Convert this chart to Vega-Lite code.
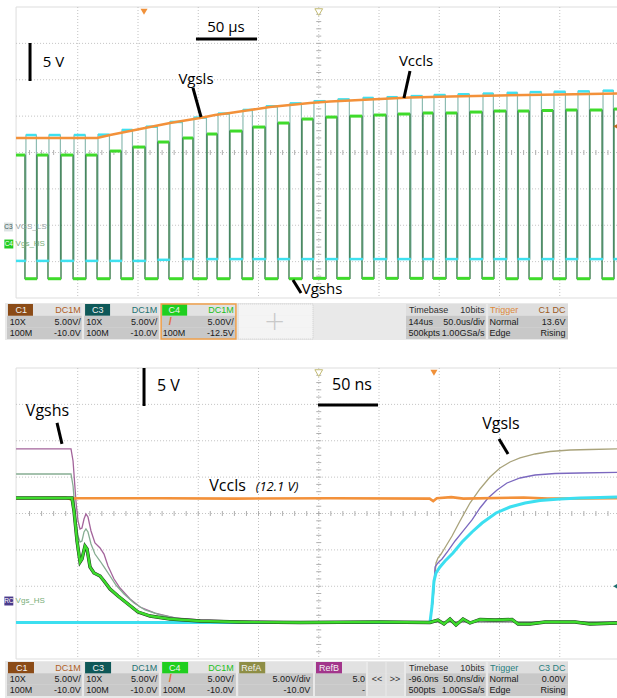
{
"$schema":"https://vega.github.io/schema/vega-lite/v6.json",
"padding":{"left":0,"top":6,"right":0,"bottom":0},
"background":"#ffffff",
"spacing":0,
"bounds":"flush",
"config":{"view":{"stroke":null},"axis":{"disable":true},"legend":{"disable":true},"concat":{"spacing":0}},
"datasets":{
"fr":[{"v":30},{"v":-10}],
"gT":[{"t":50},{"t":100},{"t":150},{"t":200},{"t":250},{"t":300},{"t":350},{"t":400},{"t":450}],
"gV":[{"v":-5},{"v":0},{"v":5},{"v":10},{"v":15},{"v":20},{"v":25}],
"tT":[{"t":10},{"t":20},{"t":30},{"t":40},{"t":50},{"t":60},{"t":70},{"t":80},{"t":90},{"t":100},{"t":110},{"t":120},{"t":130},{"t":140},{"t":150},{"t":160},{"t":170},{"t":180},{"t":190},{"t":200},{"t":210},{"t":220},{"t":230},{"t":240},{"t":250},{"t":260},{"t":270},{"t":280},{"t":290},{"t":300},{"t":310},{"t":320},{"t":330},{"t":340},{"t":350},{"t":360},{"t":370},{"t":380},{"t":390},{"t":400},{"t":410},{"t":420},{"t":430},{"t":440},{"t":450},{"t":460},{"t":470},{"t":480},{"t":490}],
"tV":[{"v":-9},{"v":-8},{"v":-7},{"v":-6},{"v":-5},{"v":-4},{"v":-3},{"v":-2},{"v":-1},{"v":0},{"v":1},{"v":2},{"v":3},{"v":4},{"v":5},{"v":6},{"v":7},{"v":8},{"v":9},{"v":10},{"v":11},{"v":12},{"v":13},{"v":14},{"v":15},{"v":16},{"v":17},{"v":18},{"v":19},{"v":20},{"v":21},{"v":22},{"v":23},{"v":24},{"v":25},{"v":26},{"v":27},{"v":28},{"v":29}],
"sw":[
{"s":"HS","a":-1.2,"b":6.2,"v":12.15},{"s":"HS","a":6.2,"b":16.2,"v":-4.85},{"s":"HS","a":16.2,"b":25.3,"v":12.15},{"s":"HS","a":25.3,"b":36.1,"v":-4.85},{"s":"HS","a":36.1,"b":46.1,"v":12.15},{"s":"HS","a":46.1,"b":56.8,"v":-4.85},{"s":"HS","a":56.8,"b":66.0,"v":12.15},{"s":"HS","a":66.0,"b":76.8,"v":-4.85},{"s":"HS","a":76.8,"b":85.9,"v":12.7},{"s":"HS","a":85.9,"b":95.9,"v":-4.85},{"s":"HS","a":95.9,"b":105.8,"v":13.25},{"s":"HS","a":105.8,"b":116.6,"v":-4.85},{"s":"HS","a":116.6,"b":125.7,"v":13.94},{"s":"HS","a":125.7,"b":137.3,"v":-4.85},{"s":"HS","a":137.3,"b":145.6,"v":14.49},{"s":"HS","a":145.6,"b":157.3,"v":-4.85},{"s":"HS","a":157.3,"b":165.6,"v":15.04},{"s":"HS","a":165.6,"b":176.3,"v":-4.85},{"s":"HS","a":176.3,"b":186.3,"v":15.45},{"s":"HS","a":186.3,"b":195.4,"v":-4.85},{"s":"HS","a":195.4,"b":205.4,"v":16.0},{"s":"HS","a":205.4,"b":216.2,"v":-4.85},{"s":"HS","a":216.2,"b":225.3,"v":16.55},{"s":"HS","a":225.3,"b":236.1,"v":-4.85},{"s":"HS","a":236.1,"b":245.2,"v":17.1},{"s":"HS","a":245.2,"b":256.0,"v":-4.8},{"s":"HS","a":256.0,"b":265.1,"v":17.37},{"s":"HS","a":265.1,"b":275.9,"v":-4.8},{"s":"HS","a":275.9,"b":285.9,"v":17.5},{"s":"HS","a":285.9,"b":295.8,"v":-4.8},{"s":"HS","a":295.8,"b":305.8,"v":17.65},{"s":"HS","a":305.8,"b":315.8,"v":-4.8},{"s":"HS","a":315.8,"b":325.7,"v":17.79},{"s":"HS","a":325.7,"b":336.5,"v":-4.8},{"s":"HS","a":336.5,"b":344.8,"v":17.93},{"s":"HS","a":344.8,"b":355.6,"v":-4.8},{"s":"HS","a":355.6,"b":364.7,"v":17.93},{"s":"HS","a":364.7,"b":375.5,"v":-4.8},{"s":"HS","a":375.5,"b":385.5,"v":18.06},{"s":"HS","a":385.5,"b":395.4,"v":-4.8},{"s":"HS","a":395.4,"b":405.4,"v":18.2},{"s":"HS","a":405.4,"b":415.4,"v":-4.85},{"s":"HS","a":415.4,"b":424.5,"v":18.2},{"s":"HS","a":424.5,"b":435.3,"v":-4.85},{"s":"HS","a":435.3,"b":444.4,"v":18.27},{"s":"HS","a":444.4,"b":455.2,"v":-4.85},{"s":"HS","a":455.2,"b":464.3,"v":18.34},{"s":"HS","a":464.3,"b":475.1,"v":-4.85},{"s":"HS","a":475.1,"b":485.1,"v":18.34},{"s":"HS","a":485.1,"b":495.0,"v":-4.85},{"s":"HS","a":495.0,"b":498.0,"v":18.47},
{"s":"LS","a":-1.2,"b":7.0,"v":-4.9},{"s":"LS","a":7.0,"b":15.7,"v":12.4},{"s":"LS","a":15.7,"b":26.1,"v":-4.9},{"s":"LS","a":26.1,"b":35.6,"v":12.4},{"s":"LS","a":35.6,"b":46.9,"v":-4.9},{"s":"LS","a":46.9,"b":56.3,"v":12.4},{"s":"LS","a":56.3,"b":66.8,"v":-4.9},{"s":"LS","a":66.8,"b":76.3,"v":12.45},{"s":"LS","a":76.3,"b":86.7,"v":-4.9},{"s":"LS","a":86.7,"b":95.4,"v":13.1},{"s":"LS","a":95.4,"b":106.6,"v":-4.9},{"s":"LS","a":106.6,"b":116.1,"v":13.55},{"s":"LS","a":116.1,"b":126.5,"v":-4.75},{"s":"LS","a":126.5,"b":136.8,"v":14.2},{"s":"LS","a":136.8,"b":146.4,"v":-4.65},{"s":"LS","a":146.4,"b":156.8,"v":14.8},{"s":"LS","a":156.8,"b":166.4,"v":-4.65},{"s":"LS","a":166.4,"b":175.8,"v":15.35},{"s":"LS","a":175.8,"b":187.1,"v":-4.65},{"s":"LS","a":187.1,"b":194.9,"v":15.85},{"s":"LS","a":194.9,"b":206.2,"v":-4.65},{"s":"LS","a":206.2,"b":215.7,"v":16.35},{"s":"LS","a":215.7,"b":226.1,"v":-4.65},{"s":"LS","a":226.1,"b":235.6,"v":16.75},{"s":"LS","a":235.6,"b":246.0,"v":-4.65},{"s":"LS","a":246.0,"b":255.5,"v":17.05},{"s":"LS","a":255.5,"b":265.9,"v":-4.65},{"s":"LS","a":265.9,"b":275.4,"v":17.3},{"s":"LS","a":275.4,"b":286.7,"v":-4.65},{"s":"LS","a":286.7,"b":295.3,"v":17.5},{"s":"LS","a":295.3,"b":306.6,"v":-4.65},{"s":"LS","a":306.6,"b":315.3,"v":17.6},{"s":"LS","a":315.3,"b":326.5,"v":-4.65},{"s":"LS","a":326.5,"b":336.0,"v":17.75},{"s":"LS","a":336.0,"b":345.6,"v":-4.65},{"s":"LS","a":345.6,"b":355.1,"v":17.9},{"s":"LS","a":355.1,"b":365.5,"v":-4.65},{"s":"LS","a":365.5,"b":375.0,"v":18.0},{"s":"LS","a":375.0,"b":386.3,"v":-4.65},{"s":"LS","a":386.3,"b":394.9,"v":18.1},{"s":"LS","a":394.9,"b":406.2,"v":-4.65},{"s":"LS","a":406.2,"b":414.9,"v":18.2},{"s":"LS","a":414.9,"b":425.3,"v":-4.65},{"s":"LS","a":425.3,"b":434.8,"v":18.3},{"s":"LS","a":434.8,"b":445.2,"v":-4.65},{"s":"LS","a":445.2,"b":454.7,"v":18.35},{"s":"LS","a":454.7,"b":465.1,"v":-4.65},{"s":"LS","a":465.1,"b":474.6,"v":18.4},{"s":"LS","a":474.6,"b":485.9,"v":-4.65},{"s":"LS","a":485.9,"b":494.5,"v":18.5},{"s":"LS","a":494.5,"b":498.0,"v":-4.65}
],
"or1":[{"t":-1.2,"v":11.99},{"t":66.0,"v":11.99},{"t":76.8,"v":12.40},{"t":89.2,"v":12.82},{"t":101.7,"v":13.23},{"t":114.1,"v":13.64},{"t":126.6,"v":14.05},{"t":139.0,"v":14.40},{"t":151.5,"v":14.74},{"t":163.9,"v":15.15},{"t":176.3,"v":15.43},{"t":192.9,"v":15.84},{"t":209.5,"v":16.25},{"t":226.1,"v":16.53},{"t":242.7,"v":16.80},{"t":259.3,"v":17.01},{"t":275.9,"v":17.15},{"t":300.8,"v":17.35},{"t":325.7,"v":17.56},{"t":358.9,"v":17.70},{"t":400.4,"v":17.84},{"t":450.2,"v":17.97},{"t":497.5,"v":18.11}],
"an1l":[{"t1":10.4,"v1":25.05,"t2":10.4,"v2":19.83},{"t1":148.1,"v1":25.6,"t2":198.8,"v2":25.6},{"t1":145.6,"v1":18.87,"t2":152.3,"v2":14.88},{"t1":325.7,"v1":21.2,"t2":320.7,"v2":17.49},{"t1":228.6,"v1":-7.52,"t2":235.3,"v2":-9.31}],
"an1t":[{"t":29.9,"v":22.4,"label":"5 V"},{"t":173.0,"v":27.25,"label":"50 µs"},{"t":148.1,"v":20.11,"label":"Vgsls"},{"t":330.7,"v":22.58,"label":"Vccls"},{"t":252.7,"v":-8.76,"label":"Vgshs"}],
"lb1":[{"t":11.2,"v":-0.24,"label":"VGS_LS","c":"LS"},{"t":10.6,"v":-2.58,"label":"Vgs_HS","c":"HS"}],
"tg1":[{"t":-7.5,"v":-0.24,"label":"C3","c":"C3"},{"t":-7.2,"v":-2.58,"label":"C4","c":"C4"}],
"bt":[
{"s":"C1","t":-1.2,"v":12.1},{"s":"C1","t":40,"v":12.15},{"s":"C1","t":44.5,"v":11.95},{"s":"C1","t":48,"v":12.1},{"s":"C1","t":120,"v":12.1},{"s":"C1","t":180,"v":12.05},{"s":"C1","t":260,"v":12.1},{"s":"C1","t":342,"v":12.05},{"s":"C1","t":345,"v":11.7},{"s":"C1","t":348,"v":12.1},{"s":"C1","t":360,"v":12.25},{"s":"C1","t":370,"v":12.05},{"s":"C1","t":420,"v":12.2},{"s":"C1","t":440,"v":12.05},{"s":"C1","t":497.5,"v":12.1},
{"s":"C4","t":-1.2,"v":12.13},{"s":"C4","t":45.2,"v":12.13},{"s":"C4","t":46.9,"v":10.34},{"s":"C4","t":49.4,"v":6.22},{"s":"C4","t":51.9,"v":3.33},{"s":"C4","t":53.5,"v":3.75},{"s":"C4","t":56.0,"v":5.53},{"s":"C4","t":57.7,"v":5.12},{"s":"C4","t":60.2,"v":2.64},{"s":"C4","t":63.5,"v":1.82},{"s":"C4","t":68.5,"v":1.41},{"s":"C4","t":71.8,"v":0.72},{"s":"C4","t":76.8,"v":-0.38},{"s":"C4","t":83.4,"v":-1.34},{"s":"C4","t":91.7,"v":-2.44},{"s":"C4","t":100.0,"v":-3.54},{"s":"C4","t":110.0,"v":-4.09},{"s":"C4","t":126.6,"v":-4.5},{"s":"C4","t":151.5,"v":-4.78},{"s":"C4","t":184.6,"v":-4.91},{"s":"C4","t":234.4,"v":-4.98},{"s":"C4","t":300.8,"v":-4.91},{"s":"C4","t":342.3,"v":-4.98},{"s":"C4","t":348.9,"v":-4.64},{"s":"C4","t":353.9,"v":-5.19},{"s":"C4","t":358.9,"v":-4.5},{"s":"C4","t":363.9,"v":-5.33},{"s":"C4","t":369.7,"v":-4.5},{"s":"C4","t":375.5,"v":-5.05},{"s":"C4","t":383.8,"v":-4.57},{"s":"C4","t":396.3,"v":-4.64},{"s":"C4","t":410.4,"v":-4.57},{"s":"C4","t":415.4,"v":-5.19},{"s":"C4","t":425.3,"v":-5.19},{"s":"C4","t":437.8,"v":-4.91},{"s":"C4","t":462.7,"v":-4.91},{"s":"C4","t":475.1,"v":-5.19},{"s":"C4","t":497.5,"v":-5.05},
{"s":"C3","t":-1.2,"v":-4.98},{"s":"C3","t":342.3,"v":-4.98},{"s":"C3","t":344.0,"v":-2.72},{"s":"C3","t":345.6,"v":0.72},{"s":"C3","t":347.3,"v":1.82},{"s":"C3","t":350.6,"v":2.65},{"s":"C3","t":354.8,"v":3.47},{"s":"C3","t":361.4,"v":4.57},{"s":"C3","t":368.9,"v":6.08},{"s":"C3","t":377.2,"v":7.46},{"s":"C3","t":385.5,"v":8.69},{"s":"C3","t":397.1,"v":10.07},{"s":"C3","t":408.7,"v":10.89},{"s":"C3","t":421.2,"v":11.44},{"s":"C3","t":433.6,"v":11.79},{"s":"C3","t":450.2,"v":11.99},{"s":"C3","t":466.8,"v":12.13},{"s":"C3","t":483.4,"v":12.2},{"s":"C3","t":497.5,"v":12.27},
{"s":"RBh","t":-1.2,"v":18.87},{"s":"RBh","t":44.4,"v":18.87},{"s":"RBh","t":46.1,"v":17.22},{"s":"RBh","t":48.5,"v":11.72},{"s":"RBh","t":50.2,"v":8.97},{"s":"RBh","t":51.9,"v":7.87},{"s":"RBh","t":53.5,"v":8.01},{"s":"RBh","t":55.2,"v":9.24},{"s":"RBh","t":56.8,"v":9.93},{"s":"RBh","t":58.5,"v":9.52},{"s":"RBh","t":61.0,"v":7.6},{"s":"RBh","t":64.3,"v":5.95},{"s":"RBh","t":68.5,"v":5.26},{"s":"RBh","t":71.8,"v":4.43},{"s":"RBh","t":75.1,"v":2.78},{"s":"RBh","t":80.1,"v":0.99},{"s":"RBh","t":85.1,"v":-0.24},{"s":"RBh","t":93.4,"v":-1.75},{"s":"RBh","t":101.7,"v":-2.85},{"s":"RBh","t":114.1,"v":-3.68},{"s":"RBh","t":130.7,"v":-4.36},{"s":"RBh","t":151.5,"v":-4.64},{"s":"RBh","t":184.6,"v":-4.78},{"s":"RBh","t":234.4,"v":-4.91},{"s":"RBh","t":497.5,"v":-4.91},
{"s":"RAh","t":-1.2,"v":15.43},{"s":"RAh","t":44.4,"v":15.43},{"s":"RAh","t":46.1,"v":13.78},{"s":"RAh","t":48.5,"v":8.97},{"s":"RAh","t":50.2,"v":6.91},{"s":"RAh","t":51.9,"v":6.08},{"s":"RAh","t":53.5,"v":6.22},{"s":"RAh","t":55.2,"v":7.46},{"s":"RAh","t":56.8,"v":7.87},{"s":"RAh","t":58.5,"v":7.46},{"s":"RAh","t":61.0,"v":5.81},{"s":"RAh","t":64.3,"v":4.43},{"s":"RAh","t":68.5,"v":3.47},{"s":"RAh","t":71.8,"v":2.65},{"s":"RAh","t":76.8,"v":1.41},{"s":"RAh","t":81.7,"v":0.17},{"s":"RAh","t":88.4,"v":-1.07},{"s":"RAh","t":96.7,"v":-2.3},{"s":"RAh","t":105.8,"v":-3.26},{"s":"RAh","t":118.3,"v":-3.95},{"s":"RAh","t":134.9,"v":-4.5},{"s":"RAh","t":159.8,"v":-4.78},{"s":"RAh","t":193.0,"v":-4.91},{"s":"RAh","t":497.5,"v":-4.91},
{"s":"RAl","t":-1.2,"v":-4.91},{"s":"RAl","t":342.3,"v":-4.91},{"s":"RAl","t":344.8,"v":-2.03},{"s":"RAl","t":347.3,"v":3.2},{"s":"RAl","t":348.9,"v":3.88},{"s":"RAl","t":351.5,"v":4.43},{"s":"RAl","t":355.6,"v":5.53},{"s":"RAl","t":360.6,"v":6.91},{"s":"RAl","t":367.2,"v":8.97},{"s":"RAl","t":375.5,"v":11.44},{"s":"RAl","t":383.8,"v":13.37},{"s":"RAl","t":392.1,"v":15.02},{"s":"RAl","t":400.4,"v":16.25},{"s":"RAl","t":408.7,"v":17.08},{"s":"RAl","t":417.0,"v":17.63},{"s":"RAl","t":429.5,"v":18.18},{"s":"RAl","t":441.9,"v":18.52},{"s":"RAl","t":458.5,"v":18.73},{"s":"RAl","t":475.1,"v":18.8},{"s":"RAl","t":497.5,"v":18.87},
{"s":"RBl","t":-1.2,"v":-4.91},{"s":"RBl","t":342.3,"v":-4.91},{"s":"RBl","t":344.8,"v":-2.03},{"s":"RBl","t":346.5,"v":2.65},{"s":"RBl","t":348.9,"v":3.2},{"s":"RBl","t":352.3,"v":3.75},{"s":"RBl","t":357.3,"v":4.85},{"s":"RBl","t":363.1,"v":6.22},{"s":"RBl","t":369.7,"v":7.59},{"s":"RBl","t":377.2,"v":9.11},{"s":"RBl","t":383.8,"v":10.76},{"s":"RBl","t":390.5,"v":12.13},{"s":"RBl","t":398.0,"v":13.23},{"s":"RBl","t":406.2,"v":14.19},{"s":"RBl","t":417.0,"v":14.88},{"s":"RBl","t":429.5,"v":15.29},{"s":"RBl","t":446.1,"v":15.5},{"s":"RBl","t":466.8,"v":15.57},{"s":"RBl","t":497.5,"v":15.64}
],
"an2l":[{"t1":105,"v1":30,"t2":105,"v2":24.78},{"t1":249.4,"v1":24.91,"t2":299.2,"v2":24.91},{"t1":32.8,"v1":22.45,"t2":36.9,"v2":19.56},{"t1":399.6,"v1":20.24,"t2":407.1,"v2":18.18}],
"an2t":[{"t":125.3,"v":27.53,"label":"5 V"},{"t":277.6,"v":27.66,"label":"50 ns"},{"t":24.9,"v":24.09,"label":"Vgshs"},{"t":174.3,"v":13.78,"label":"Vccls"},{"t":401.2,"v":22.3,"label":"Vgsls"}],
"an2i":[{"t":215.4,"v":13.64,"label":"(12.1 V)"}],
"lb2":[{"t":10.6,"v":-2.03,"label":"Vgs_HS","c":"HS"}],
"tg2":[{"t":-7.2,"v":-2.03,"label":"RC","c":"RC"}],
"b1":[
{"g":"L","box":"C1","row":"h","left":"C1","right":"DC1M"},{"g":"L","box":"C1","row":"r1","left":"10X","right":"5.00V/"},{"g":"L","box":"C1","row":"r2","left":"100M","right":"-10.0V"},
{"g":"L","box":"C3","row":"h","left":"C3","right":"DC1M"},{"g":"L","box":"C3","row":"r1","left":"10X","right":"5.00V/"},{"g":"L","box":"C3","row":"r2","left":"100M","right":"-10.0V"},
{"g":"L","box":"C4","row":"h","left":"C4","right":"DC1M"},{"g":"L","box":"C4","row":"r1","left":"","right":"5.00V/"},{"g":"L","box":"C4","row":"r2","left":"100M","right":"-12.5V"},
{"g":"E","box":"E","row":"h","left":"","right":""},{"g":"E","box":"E","row":"r1","left":"+","right":""},{"g":"E","box":"E","row":"r2","left":"","right":""},
{"g":"R","box":"Timebase","row":"h","left":"Timebase","right":"10bits"},{"g":"R","box":"Timebase","row":"r1","left":"144us","right":"50.0us/div"},{"g":"R","box":"Timebase","row":"r2","left":"500kpts","right":"1.00GSa/s"},
{"g":"R","box":"Trigger","row":"h","left":"Trigger","right":"C1 DC"},{"g":"R","box":"Trigger","row":"r1","left":"Normal","right":"13.6V"},{"g":"R","box":"Trigger","row":"r2","left":"Edge","right":"Rising"}
],
"b2":[
{"g":"L","box":"C1","row":"h","left":"C1","right":"DC1M"},{"g":"L","box":"C1","row":"r1","left":"10X","right":"5.00V/"},{"g":"L","box":"C1","row":"r2","left":"100M","right":"-10.0V"},
{"g":"L","box":"C3","row":"h","left":"C3","right":"DC1M"},{"g":"L","box":"C3","row":"r1","left":"10X","right":"5.00V/"},{"g":"L","box":"C3","row":"r2","left":"100M","right":"-10.0V"},
{"g":"L","box":"C4","row":"h","left":"C4","right":"DC1M"},{"g":"L","box":"C4","row":"r1","left":"","right":"5.00V/"},{"g":"L","box":"C4","row":"r2","left":"100M","right":"-10.0V"},
{"g":"L","box":"RefA","row":"h","left":"RefA","right":""},{"g":"L","box":"RefA","row":"r1","left":"","right":"5.00V/div"},{"g":"L","box":"RefA","row":"r2","left":"","right":"-10.0V"},
{"g":"B","box":"RefB","row":"h","left":"RefB","right":""},{"g":"B","box":"RefB","row":"r1","left":"","right":"5.0"},{"g":"B","box":"RefB","row":"r2","left":"","right":"-"},
{"g":"N","box":"<<","row":"h","left":"","right":""},{"g":"N","box":"<<","row":"r1","left":"<<","right":""},{"g":"N","box":"<<","row":"r2","left":"","right":""},
{"g":"N","box":">>","row":"h","left":"","right":""},{"g":"N","box":">>","row":"r1","left":">>","right":""},{"g":"N","box":">>","row":"r2","left":"","right":""},
{"g":"R","box":"Timebase","row":"h","left":"Timebase","right":"10bits"},{"g":"R","box":"Timebase","row":"r1","left":"-96.0ns","right":"50.0ns/div"},{"g":"R","box":"Timebase","row":"r2","left":"500pts","right":"1.00GSa/s"},
{"g":"R","box":"Trigger","row":"h","left":"Trigger","right":"C3 DC"},{"g":"R","box":"Trigger","row":"r1","left":"Normal","right":"0.00V"},{"g":"R","box":"Trigger","row":"r2","left":"Edge","right":"Rising"}
]
},
"vconcat":[
{
"width":617,"height":291,
"resolve":{"scale":{"y":"independent","color":"independent"}},
"layer":[
{"data":{"name":"fr"},"mark":{"type":"rule","color":"#dddddd","strokeWidth":1},"encoding":{"x":{"datum":-1.2,"type":"quantitative","scale":{"domain":[-14.52,497.5],"nice":false,"zero":false}},"x2":{"datum":500},"y":{"field":"v","type":"quantitative","scale":{"domain":[-10,30],"nice":false,"zero":false}}}},
{"data":{"values":[{"t":-1.2}]},"mark":{"type":"rule","color":"#dddddd","strokeWidth":1},"encoding":{"x":{"field":"t","type":"quantitative","scale":{"domain":[-14.52,497.5],"nice":false,"zero":false}}}},
{"data":{"name":"gT"},"mark":{"type":"rule","color":"#c2c2c2","strokeDash":[1,2]},"encoding":{"x":{"field":"t","type":"quantitative","scale":{"domain":[-14.52,497.5],"nice":false,"zero":false}}}},
{"data":{"name":"gV"},"mark":{"type":"rule","color":"#c2c2c2","strokeDash":[1,2]},"encoding":{"x":{"datum":-1.2,"type":"quantitative","scale":{"domain":[-14.52,497.5],"nice":false,"zero":false}},"x2":{"datum":500},"y":{"field":"v","type":"quantitative","scale":{"domain":[-10,30],"nice":false,"zero":false}}}},
{"data":{"name":"tT"},"mark":{"type":"tick","orient":"vertical","color":"#b0b0b0","size":5,"thickness":1,"opacity":1},"encoding":{"x":{"field":"t","type":"quantitative","scale":{"domain":[-14.52,497.5],"nice":false,"zero":false}},"y":{"datum":10,"type":"quantitative","scale":{"domain":[-10,30],"nice":false,"zero":false}}}},
{"data":{"name":"tV"},"mark":{"type":"tick","orient":"horizontal","color":"#b0b0b0","size":5,"thickness":1,"opacity":1},"encoding":{"y":{"field":"v","type":"quantitative","scale":{"domain":[-10,30],"nice":false,"zero":false}},"x":{"datum":250,"type":"quantitative","scale":{"domain":[-14.52,497.5],"nice":false,"zero":false}}}},
{"data":{"name":"sw"},"transform":[{"filter":"datum.s==='LS'"},{"fold":["a","b"],"as":["k","t"]}],"mark":{"type":"line","color":"#8dbcb2","strokeWidth":1.2},"encoding":{"x":{"field":"t","type":"quantitative","scale":{"domain":[-14.52,497.5],"nice":false,"zero":false}},"y":{"field":"v","type":"quantitative","scale":{"domain":[-10,30],"nice":false,"zero":false}}}},
{"data":{"name":"sw"},"transform":[{"filter":"datum.s==='HS'"},{"fold":["a","b"],"as":["k","t"]}],"mark":{"type":"line","color":"#1f6a34","strokeWidth":1.2},"encoding":{"x":{"field":"t","type":"quantitative","scale":{"domain":[-14.52,497.5],"nice":false,"zero":false}},"y":{"field":"v","type":"quantitative","scale":{"domain":[-7.5,32.5],"nice":false,"zero":false}}}},
{"data":{"name":"sw"},"transform":[{"filter":"datum.s==='LS'"}],"mark":{"type":"rule","color":"#3ee1f0","strokeWidth":2.5},"encoding":{"x":{"field":"a","type":"quantitative","scale":{"domain":[-14.52,497.5],"nice":false,"zero":false}},"x2":{"field":"b"},"y":{"field":"v","type":"quantitative","scale":{"domain":[-10,30],"nice":false,"zero":false}}}},
{"data":{"name":"sw"},"transform":[{"filter":"datum.s==='HS'"}],"mark":{"type":"rule","color":"#3fdb2b","strokeWidth":3},"encoding":{"x":{"field":"a","type":"quantitative","scale":{"domain":[-14.52,497.5],"nice":false,"zero":false}},"x2":{"field":"b"},"y":{"field":"v","type":"quantitative","scale":{"domain":[-7.5,32.5],"nice":false,"zero":false}}}},
{"data":{"name":"or1"},"mark":{"type":"line","color":"#f3913a","strokeWidth":2.5},"encoding":{"x":{"field":"t","type":"quantitative","scale":{"domain":[-14.52,497.5],"nice":false,"zero":false}},"y":{"field":"v","type":"quantitative","scale":{"domain":[-10,30],"nice":false,"zero":false}}}},
{"data":{"name":"an1l"},"mark":{"type":"rule","color":"#000000","strokeWidth":3},"encoding":{"x":{"field":"t1","type":"quantitative","scale":{"domain":[-14.52,497.5],"nice":false,"zero":false}},"x2":{"field":"t2"},"y":{"field":"v1","type":"quantitative","scale":{"domain":[-10,30],"nice":false,"zero":false}},"y2":{"field":"v2"}}},
{"data":{"name":"an1t"},"mark":{"type":"text","font":"Open Sans","fontSize":15,"color":"#000000","align":"center","baseline":"middle"},"encoding":{"x":{"field":"t","type":"quantitative","scale":{"domain":[-14.52,497.5],"nice":false,"zero":false}},"y":{"field":"v","type":"quantitative","scale":{"domain":[-10,30],"nice":false,"zero":false}},"text":{"field":"label"}}},
{"data":{"name":"lb1"},"mark":{"type":"text","font":"Liberation Sans","fontSize":8,"align":"center","baseline":"middle"},"encoding":{"x":{"field":"t","type":"quantitative","scale":{"domain":[-14.52,497.5],"nice":false,"zero":false}},"y":{"field":"v","type":"quantitative","scale":{"domain":[-10,30],"nice":false,"zero":false}},"text":{"field":"label"},"color":{"field":"c","type":"nominal","scale":{"domain":["LS","HS"],"range":["#98a4a4","#78ad78"]}}}},
{"data":{"name":"tg1"},"mark":{"type":"square","size":80,"opacity":1},"encoding":{"x":{"field":"t","type":"quantitative","scale":{"domain":[-14.52,497.5],"nice":false,"zero":false}},"y":{"field":"v","type":"quantitative","scale":{"domain":[-10,30],"nice":false,"zero":false}},"color":{"field":"c","type":"nominal","scale":{"domain":["C3","C4"],"range":["#dde4e4","#22cc22"]}}}},
{"data":{"name":"tg1"},"mark":{"type":"text","font":"Liberation Sans","fontSize":6.5,"align":"center","baseline":"middle"},"encoding":{"x":{"field":"t","type":"quantitative","scale":{"domain":[-14.52,497.5],"nice":false,"zero":false}},"y":{"field":"v","type":"quantitative","scale":{"domain":[-10,30],"nice":false,"zero":false}},"text":{"field":"label"},"color":{"field":"c","type":"nominal","scale":{"domain":["C3","C4"],"range":["#3d5c5c","#ffffff"]}}}},
{"data":{"values":[{"t":105,"v":29.35}]},"mark":{"type":"point","shape":"triangle-down","filled":true,"color":"#f0913a","size":50,"opacity":1},"encoding":{"x":{"field":"t","type":"quantitative","scale":{"domain":[-14.52,497.5],"nice":false,"zero":false}},"y":{"field":"v","type":"quantitative","scale":{"domain":[-10,30],"nice":false,"zero":false}}}},
{"data":{"values":[{"t":250,"v":29.3}]},"mark":{"type":"point","shape":"triangle-down","filled":true,"fill":"#ffffff","stroke":"#c2ba72","strokeWidth":1,"size":60,"opacity":1},"encoding":{"x":{"field":"t","type":"quantitative","scale":{"domain":[-14.52,497.5],"nice":false,"zero":false}},"y":{"field":"v","type":"quantitative","scale":{"domain":[-10,30],"nice":false,"zero":false}}}},
{"data":{"values":[{"t":496.5,"v":13.6}]},"mark":{"type":"point","shape":"triangle-left","filled":true,"color":"#c0691f","size":35,"opacity":1},"encoding":{"x":{"field":"t","type":"quantitative","scale":{"domain":[-14.52,497.5],"nice":false,"zero":false}},"y":{"field":"v","type":"quantitative","scale":{"domain":[-10,30],"nice":false,"zero":false}}}}
]
},
{
"width":617,"height":70,
"resolve":{"scale":{"x":"independent","y":"independent","color":"independent"}},
"layer":[
{"data":{"values":[{"k":"s"}]},"mark":{"type":"rect","color":"#e9e9e9"},"encoding":{"x":{"field":"k","type":"nominal","scale":{"domain":["s"],"range":[5,568],"paddingInner":0,"paddingOuter":0}},"y":{"field":"k","type":"nominal","scale":{"domain":["s"],"range":[5,42],"paddingInner":0,"paddingOuter":0}}}},
{"data":{"name":"b1"},"transform":[{"filter":"datum.g==='L'"}],"mark":{"type":"rect"},"encoding":{"x":{"field":"box","type":"nominal","scale":{"domain":["C1","C3","C4","E"],"range":[7,313],"paddingInner":0.03,"paddingOuter":0}},"y":{"field":"row","type":"nominal","scale":{"domain":["h","r1","r2"],"range":[6,41],"paddingInner":0,"paddingOuter":0}},"color":{"field":"row","type":"nominal","scale":{"domain":["h","r1","r2"],"range":["#e2e2e2","#c8c8c8","#c8c8c8"]}}}},
{"data":{"name":"b1"},"transform":[{"filter":"datum.g==='E'"}],"mark":{"type":"rect","color":"#f4f4f4"},"encoding":{"x":{"field":"box","type":"nominal","scale":{"domain":["C1","C3","C4","E"],"range":[7,313],"paddingInner":0.03,"paddingOuter":0}},"y":{"field":"row","type":"nominal","scale":{"domain":["h","r1","r2"],"range":[6,41],"paddingInner":0,"paddingOuter":0}}}},
{"data":{"values":[{"box":"E","k":"s"}]},"mark":{"type":"rect","filled":false,"color":"#cfcfcf","strokeWidth":1,"strokeDash":[1,1]},"encoding":{"x":{"field":"box","type":"nominal","scale":{"domain":["C1","C3","C4","E"],"range":[7,313],"paddingInner":0.03,"paddingOuter":0}},"y":{"field":"k","type":"nominal","scale":{"domain":["s"],"range":[6,41],"paddingInner":0,"paddingOuter":0}}}},
{"data":{"name":"b1"},"transform":[{"filter":"datum.g==='E' && datum.row==='r1'"}],"mark":{"type":"text","font":"DejaVu Sans","fontSize":26,"fontWeight":200,"color":"#c9c9c9","align":"center","baseline":"middle"},"encoding":{"x":{"field":"box","type":"nominal","scale":{"domain":["C1","C3","C4","E"],"range":[7,313],"paddingInner":0.03,"paddingOuter":0}},"y":{"field":"row","type":"nominal","scale":{"domain":["h","r1","r2"],"range":[6,41],"paddingInner":0,"paddingOuter":0}},"text":{"field":"left"}}},
{"data":{"name":"b1"},"transform":[{"filter":"datum.g==='L' && datum.row==='h'"}],"mark":{"type":"rect","width":25,"xOffset":-23.9},"encoding":{"x":{"field":"box","type":"nominal","scale":{"domain":["C1","C3","C4","E"],"range":[7,313],"paddingInner":0.03,"paddingOuter":0}},"y":{"field":"row","type":"nominal","scale":{"domain":["h","r1","r2"],"range":[6,41],"paddingInner":0,"paddingOuter":0}},"color":{"field":"box","type":"nominal","scale":{"domain":["C1","C3","C4"],"range":["#8b4b17","#0e5858","#1fcf1f"]}}}},
{"data":{"name":"b1"},"transform":[{"filter":"datum.g==='L' && datum.row==='h'"}],"mark":{"type":"text","font":"Liberation Sans","fontSize":9,"color":"#f2f2f2","align":"center","baseline":"middle","dx":-23.9},"encoding":{"x":{"field":"box","type":"nominal","scale":{"domain":["C1","C3","C4","E"],"range":[7,313],"paddingInner":0.03,"paddingOuter":0}},"y":{"field":"row","type":"nominal","scale":{"domain":["h","r1","r2"],"range":[6,41],"paddingInner":0,"paddingOuter":0}},"text":{"field":"left"}}},
{"data":{"name":"b1"},"transform":[{"filter":"datum.g==='L' && datum.row==='h'"}],"mark":{"type":"text","font":"Liberation Sans","fontSize":9,"align":"right","baseline":"middle","dx":35.4},"encoding":{"x":{"field":"box","type":"nominal","scale":{"domain":["C1","C3","C4","E"],"range":[7,313],"paddingInner":0.03,"paddingOuter":0}},"y":{"field":"row","type":"nominal","scale":{"domain":["h","r1","r2"],"range":[6,41],"paddingInner":0,"paddingOuter":0}},"text":{"field":"right"},"color":{"field":"box","type":"nominal","scale":{"domain":["C1","C3","C4"],"range":["#b0601e","#1d7272","#20c020"]}}}},
{"data":{"name":"b1"},"transform":[{"filter":"datum.g==='L' && datum.row!=='h'"}],"mark":{"type":"text","font":"Liberation Sans","fontSize":9,"color":"#1a1a1a","align":"left","baseline":"middle","dx":-35.4},"encoding":{"x":{"field":"box","type":"nominal","scale":{"domain":["C1","C3","C4","E"],"range":[7,313],"paddingInner":0.03,"paddingOuter":0}},"y":{"field":"row","type":"nominal","scale":{"domain":["h","r1","r2"],"range":[6,41],"paddingInner":0,"paddingOuter":0}},"text":{"field":"left"}}},
{"data":{"name":"b1"},"transform":[{"filter":"datum.g==='L' && datum.row!=='h'"}],"mark":{"type":"text","font":"Liberation Sans","fontSize":9,"color":"#1a1a1a","align":"right","baseline":"middle","dx":35.4},"encoding":{"x":{"field":"box","type":"nominal","scale":{"domain":["C1","C3","C4","E"],"range":[7,313],"paddingInner":0.03,"paddingOuter":0}},"y":{"field":"row","type":"nominal","scale":{"domain":["h","r1","r2"],"range":[6,41],"paddingInner":0,"paddingOuter":0}},"text":{"field":"right"}}},
{"data":{"name":"b1"},"transform":[{"filter":"datum.box==='C4' && datum.row==='r1'"}],"mark":{"type":"text","font":"Liberation Sans","fontSize":11,"fontWeight":"bold","color":"#e0703a","align":"center","baseline":"middle","dx":-28},"encoding":{"x":{"field":"box","type":"nominal","scale":{"domain":["C1","C3","C4","E"],"range":[7,313],"paddingInner":0.03,"paddingOuter":0}},"y":{"field":"row","type":"nominal","scale":{"domain":["h","r1","r2"],"range":[6,41],"paddingInner":0,"paddingOuter":0}},"text":{"value":"/"}}},
{"data":{"values":[{"box":"C4","k":"s"}]},"mark":{"type":"rect","filled":false,"color":"#f0a04b","strokeWidth":1.5},"encoding":{"x":{"field":"box","type":"nominal","scale":{"domain":["C1","C3","C4","E"],"range":[7,313],"paddingInner":0.03,"paddingOuter":0}},"y":{"field":"k","type":"nominal","scale":{"domain":["s"],"range":[6,41],"paddingInner":0,"paddingOuter":0}}}},
{"data":{"name":"b1"},"transform":[{"filter":"datum.g==='R'"}],"mark":{"type":"rect"},"encoding":{"x":{"field":"box","type":"nominal","scale":{"domain":["Timebase","Trigger"],"range":[406,568],"paddingInner":0.03,"paddingOuter":0}},"y":{"field":"row","type":"nominal","scale":{"domain":["h","r1","r2"],"range":[6,41],"paddingInner":0,"paddingOuter":0}},"color":{"field":"row","type":"nominal","scale":{"domain":["h","r1","r2"],"range":["#dedede","#c8c8c8","#c8c8c8"]}}}},
{"data":{"name":"b1"},"transform":[{"filter":"datum.g==='R' && datum.row==='h'"}],"mark":{"type":"text","font":"Liberation Sans","fontSize":9,"align":"left","baseline":"middle","dx":-37.4},"encoding":{"x":{"field":"box","type":"nominal","scale":{"domain":["Timebase","Trigger"],"range":[406,568],"paddingInner":0.03,"paddingOuter":0}},"y":{"field":"row","type":"nominal","scale":{"domain":["h","r1","r2"],"range":[6,41],"paddingInner":0,"paddingOuter":0}},"text":{"field":"left"},"color":{"field":"box","type":"nominal","scale":{"domain":["Timebase","Trigger"],"range":["#303030","#dd8a3c"]}}}},
{"data":{"name":"b1"},"transform":[{"filter":"datum.g==='R' && datum.row==='h'"}],"mark":{"type":"text","font":"Liberation Sans","fontSize":9,"align":"right","baseline":"middle","dx":37.9},"encoding":{"x":{"field":"box","type":"nominal","scale":{"domain":["Timebase","Trigger"],"range":[406,568],"paddingInner":0.03,"paddingOuter":0}},"y":{"field":"row","type":"nominal","scale":{"domain":["h","r1","r2"],"range":[6,41],"paddingInner":0,"paddingOuter":0}},"text":{"field":"right"},"color":{"field":"box","type":"nominal","scale":{"domain":["Timebase","Trigger"],"range":["#303030","#9c5a22"]}}}},
{"data":{"name":"b1"},"transform":[{"filter":"datum.g==='R' && datum.row!=='h'"}],"mark":{"type":"text","font":"Liberation Sans","fontSize":9,"color":"#1a1a1a","align":"left","baseline":"middle","dx":-37.9},"encoding":{"x":{"field":"box","type":"nominal","scale":{"domain":["Timebase","Trigger"],"range":[406,568],"paddingInner":0.03,"paddingOuter":0}},"y":{"field":"row","type":"nominal","scale":{"domain":["h","r1","r2"],"range":[6,41],"paddingInner":0,"paddingOuter":0}},"text":{"field":"left"}}},
{"data":{"name":"b1"},"transform":[{"filter":"datum.g==='R' && datum.row!=='h'"}],"mark":{"type":"text","font":"Liberation Sans","fontSize":9,"color":"#1a1a1a","align":"right","baseline":"middle","dx":37.9},"encoding":{"x":{"field":"box","type":"nominal","scale":{"domain":["Timebase","Trigger"],"range":[406,568],"paddingInner":0.03,"paddingOuter":0}},"y":{"field":"row","type":"nominal","scale":{"domain":["h","r1","r2"],"range":[6,41],"paddingInner":0,"paddingOuter":0}},"text":{"field":"right"}}}
]
},
{
"width":617,"height":291,
"resolve":{"scale":{"color":"independent"}},
"layer":[
{"data":{"name":"fr"},"mark":{"type":"rule","color":"#dddddd","strokeWidth":1},"encoding":{"x":{"datum":-1.2,"type":"quantitative","scale":{"domain":[-14.52,497.5],"nice":false,"zero":false}},"x2":{"datum":500},"y":{"field":"v","type":"quantitative","scale":{"domain":[-10,30],"nice":false,"zero":false}}}},
{"data":{"values":[{"t":-1.2}]},"mark":{"type":"rule","color":"#dddddd","strokeWidth":1},"encoding":{"x":{"field":"t","type":"quantitative","scale":{"domain":[-14.52,497.5],"nice":false,"zero":false}}}},
{"data":{"name":"gT"},"mark":{"type":"rule","color":"#c2c2c2","strokeDash":[1,2]},"encoding":{"x":{"field":"t","type":"quantitative","scale":{"domain":[-14.52,497.5],"nice":false,"zero":false}}}},
{"data":{"name":"gV"},"mark":{"type":"rule","color":"#c2c2c2","strokeDash":[1,2]},"encoding":{"x":{"datum":-1.2,"type":"quantitative","scale":{"domain":[-14.52,497.5],"nice":false,"zero":false}},"x2":{"datum":500},"y":{"field":"v","type":"quantitative","scale":{"domain":[-10,30],"nice":false,"zero":false}}}},
{"data":{"name":"tT"},"mark":{"type":"tick","orient":"vertical","color":"#b0b0b0","size":5,"thickness":1,"opacity":1},"encoding":{"x":{"field":"t","type":"quantitative","scale":{"domain":[-14.52,497.5],"nice":false,"zero":false}},"y":{"datum":10,"type":"quantitative","scale":{"domain":[-10,30],"nice":false,"zero":false}}}},
{"data":{"name":"tV"},"mark":{"type":"tick","orient":"horizontal","color":"#b0b0b0","size":5,"thickness":1,"opacity":1},"encoding":{"y":{"field":"v","type":"quantitative","scale":{"domain":[-10,30],"nice":false,"zero":false}},"x":{"datum":250,"type":"quantitative","scale":{"domain":[-14.52,497.5],"nice":false,"zero":false}}}},
{"data":{"name":"bt"},"transform":[{"filter":"datum.s==='RBh' || datum.s==='RAh' || datum.s==='RAl' || datum.s==='RBl'"}],"mark":{"type":"line","strokeWidth":1.3},"encoding":{"x":{"field":"t","type":"quantitative","scale":{"domain":[-14.52,497.5],"nice":false,"zero":false}},"y":{"field":"v","type":"quantitative","scale":{"domain":[-10,30],"nice":false,"zero":false}},"color":{"field":"s","type":"nominal","scale":{"domain":["RBh","RAh","RAl","RBl"],"range":["#a3649b","#86ad92","#a9a37b","#7b68bf"]}}}},
{"data":{"name":"bt"},"transform":[{"filter":"datum.s==='C1'"}],"mark":{"type":"line","color":"#f3913a","strokeWidth":2.6},"encoding":{"x":{"field":"t","type":"quantitative","scale":{"domain":[-14.52,497.5],"nice":false,"zero":false}},"y":{"field":"v","type":"quantitative","scale":{"domain":[-10,30],"nice":false,"zero":false}}}},
{"data":{"name":"bt"},"transform":[{"filter":"datum.s==='C3'"}],"mark":{"type":"line","color":"#3cdff0","strokeWidth":3},"encoding":{"x":{"field":"t","type":"quantitative","scale":{"domain":[-14.52,497.5],"nice":false,"zero":false}},"y":{"field":"v","type":"quantitative","scale":{"domain":[-10,30],"nice":false,"zero":false}}}},
{"data":{"name":"bt"},"transform":[{"filter":"datum.s==='C4'"}],"mark":{"type":"line","color":"#1d3a1d","strokeWidth":3.4},"encoding":{"x":{"field":"t","type":"quantitative","scale":{"domain":[-14.52,497.5],"nice":false,"zero":false}},"y":{"field":"v","type":"quantitative","scale":{"domain":[-10,30],"nice":false,"zero":false}}}},
{"data":{"name":"bt"},"transform":[{"filter":"datum.s==='C4'"}],"mark":{"type":"line","color":"#3ddc2c","strokeWidth":2.4},"encoding":{"x":{"field":"t","type":"quantitative","scale":{"domain":[-14.52,497.5],"nice":false,"zero":false}},"y":{"field":"v","type":"quantitative","scale":{"domain":[-10,30],"nice":false,"zero":false}}}},
{"data":{"name":"an2l"},"mark":{"type":"rule","color":"#000000","strokeWidth":3},"encoding":{"x":{"field":"t1","type":"quantitative","scale":{"domain":[-14.52,497.5],"nice":false,"zero":false}},"x2":{"field":"t2"},"y":{"field":"v1","type":"quantitative","scale":{"domain":[-10,30],"nice":false,"zero":false}},"y2":{"field":"v2"}}},
{"data":{"name":"an2t"},"mark":{"type":"text","font":"Open Sans","fontSize":16,"color":"#000000","align":"center","baseline":"middle"},"encoding":{"x":{"field":"t","type":"quantitative","scale":{"domain":[-14.52,497.5],"nice":false,"zero":false}},"y":{"field":"v","type":"quantitative","scale":{"domain":[-10,30],"nice":false,"zero":false}},"text":{"field":"label"}}},
{"data":{"name":"an2i"},"mark":{"type":"text","font":"Open Sans","fontSize":13,"fontStyle":"italic","color":"#000000","align":"center","baseline":"middle"},"encoding":{"x":{"field":"t","type":"quantitative","scale":{"domain":[-14.52,497.5],"nice":false,"zero":false}},"y":{"field":"v","type":"quantitative","scale":{"domain":[-10,30],"nice":false,"zero":false}},"text":{"field":"label"}}},
{"data":{"name":"lb2"},"mark":{"type":"text","font":"Liberation Sans","fontSize":8,"color":"#78ad78","align":"center","baseline":"middle"},"encoding":{"x":{"field":"t","type":"quantitative","scale":{"domain":[-14.52,497.5],"nice":false,"zero":false}},"y":{"field":"v","type":"quantitative","scale":{"domain":[-10,30],"nice":false,"zero":false}},"text":{"field":"label"}}},
{"data":{"name":"tg2"},"mark":{"type":"square","size":80,"opacity":1,"color":"#4b3a8c"},"encoding":{"x":{"field":"t","type":"quantitative","scale":{"domain":[-14.52,497.5],"nice":false,"zero":false}},"y":{"field":"v","type":"quantitative","scale":{"domain":[-10,30],"nice":false,"zero":false}}}},
{"data":{"name":"tg2"},"mark":{"type":"text","font":"Liberation Sans","fontSize":6.5,"color":"#ffffff","align":"center","baseline":"middle"},"encoding":{"x":{"field":"t","type":"quantitative","scale":{"domain":[-14.52,497.5],"nice":false,"zero":false}},"y":{"field":"v","type":"quantitative","scale":{"domain":[-10,30],"nice":false,"zero":false}},"text":{"field":"label"}}},
{"data":{"values":[{"t":345.6,"v":29.35}]},"mark":{"type":"point","shape":"triangle-down","filled":true,"color":"#f0913a","size":50,"opacity":1},"encoding":{"x":{"field":"t","type":"quantitative","scale":{"domain":[-14.52,497.5],"nice":false,"zero":false}},"y":{"field":"v","type":"quantitative","scale":{"domain":[-10,30],"nice":false,"zero":false}}}},
{"data":{"values":[{"t":250,"v":29.3}]},"mark":{"type":"point","shape":"triangle-down","filled":true,"fill":"#ffffff","stroke":"#c2ba72","strokeWidth":1,"size":60,"opacity":1},"encoding":{"x":{"field":"t","type":"quantitative","scale":{"domain":[-14.52,497.5],"nice":false,"zero":false}},"y":{"field":"v","type":"quantitative","scale":{"domain":[-10,30],"nice":false,"zero":false}}}},
{"data":{"values":[{"t":496.5,"v":0}]},"mark":{"type":"point","shape":"triangle-left","filled":true,"color":"#1d6e6e","size":35,"opacity":1},"encoding":{"x":{"field":"t","type":"quantitative","scale":{"domain":[-14.52,497.5],"nice":false,"zero":false}},"y":{"field":"v","type":"quantitative","scale":{"domain":[-10,30],"nice":false,"zero":false}}}}
]
},
{
"width":617,"height":40,
"resolve":{"scale":{"x":"independent","y":"independent","color":"independent"}},
"layer":[
{"data":{"values":[{"k":"s"}]},"mark":{"type":"rect","color":"#e9e9e9"},"encoding":{"x":{"field":"k","type":"nominal","scale":{"domain":["s"],"range":[5,568],"paddingInner":0,"paddingOuter":0}},"y":{"field":"k","type":"nominal","scale":{"domain":["s"],"range":[2,39],"paddingInner":0,"paddingOuter":0}}}},
{"data":{"name":"b2"},"transform":[{"filter":"datum.g==='L'"}],"mark":{"type":"rect"},"encoding":{"x":{"field":"box","type":"nominal","scale":{"domain":["C1","C3","C4","RefA"],"range":[7,313],"paddingInner":0.03,"paddingOuter":0}},"y":{"field":"row","type":"nominal","scale":{"domain":["h","r1","r2"],"range":[3,37],"paddingInner":0,"paddingOuter":0}},"color":{"field":"row","type":"nominal","scale":{"domain":["h","r1","r2"],"range":["#e2e2e2","#c8c8c8","#c8c8c8"]}}}},
{"data":{"name":"b2"},"transform":[{"filter":"datum.g==='L' && datum.row==='h'"}],"mark":{"type":"rect","width":26,"xOffset":-23.4},"encoding":{"x":{"field":"box","type":"nominal","scale":{"domain":["C1","C3","C4","RefA"],"range":[7,313],"paddingInner":0.03,"paddingOuter":0}},"y":{"field":"row","type":"nominal","scale":{"domain":["h","r1","r2"],"range":[3,37],"paddingInner":0,"paddingOuter":0}},"color":{"field":"box","type":"nominal","scale":{"domain":["C1","C3","C4","RefA"],"range":["#8b4b17","#0e5858","#1fcf1f","#8e8e46"]}}}},
{"data":{"name":"b2"},"transform":[{"filter":"datum.g==='L' && datum.row==='h'"}],"mark":{"type":"text","font":"Liberation Sans","fontSize":9,"color":"#f2f2f2","align":"center","baseline":"middle","dx":-23.4},"encoding":{"x":{"field":"box","type":"nominal","scale":{"domain":["C1","C3","C4","RefA"],"range":[7,313],"paddingInner":0.03,"paddingOuter":0}},"y":{"field":"row","type":"nominal","scale":{"domain":["h","r1","r2"],"range":[3,37],"paddingInner":0,"paddingOuter":0}},"text":{"field":"left"}}},
{"data":{"name":"b2"},"transform":[{"filter":"datum.g==='L' && datum.row==='h'"}],"mark":{"type":"text","font":"Liberation Sans","fontSize":9,"align":"right","baseline":"middle","dx":35.4},"encoding":{"x":{"field":"box","type":"nominal","scale":{"domain":["C1","C3","C4","RefA"],"range":[7,313],"paddingInner":0.03,"paddingOuter":0}},"y":{"field":"row","type":"nominal","scale":{"domain":["h","r1","r2"],"range":[3,37],"paddingInner":0,"paddingOuter":0}},"text":{"field":"right"},"color":{"field":"box","type":"nominal","scale":{"domain":["C1","C3","C4","RefA"],"range":["#b0601e","#1d7272","#20c020","#8e8e46"]}}}},
{"data":{"name":"b2"},"transform":[{"filter":"datum.g==='L' && datum.row!=='h'"}],"mark":{"type":"text","font":"Liberation Sans","fontSize":9,"color":"#1a1a1a","align":"left","baseline":"middle","dx":-35.4},"encoding":{"x":{"field":"box","type":"nominal","scale":{"domain":["C1","C3","C4","RefA"],"range":[7,313],"paddingInner":0.03,"paddingOuter":0}},"y":{"field":"row","type":"nominal","scale":{"domain":["h","r1","r2"],"range":[3,37],"paddingInner":0,"paddingOuter":0}},"text":{"field":"left"}}},
{"data":{"name":"b2"},"transform":[{"filter":"datum.g==='L' && datum.row!=='h'"}],"mark":{"type":"text","font":"Liberation Sans","fontSize":9,"color":"#1a1a1a","align":"right","baseline":"middle","dx":35.4},"encoding":{"x":{"field":"box","type":"nominal","scale":{"domain":["C1","C3","C4","RefA"],"range":[7,313],"paddingInner":0.03,"paddingOuter":0}},"y":{"field":"row","type":"nominal","scale":{"domain":["h","r1","r2"],"range":[3,37],"paddingInner":0,"paddingOuter":0}},"text":{"field":"right"}}},
{"data":{"name":"b2"},"transform":[{"filter":"datum.box==='C4' && datum.row==='r1'"}],"mark":{"type":"text","font":"Liberation Sans","fontSize":11,"fontWeight":"bold","color":"#e0703a","align":"center","baseline":"middle","dx":-28},"encoding":{"x":{"field":"box","type":"nominal","scale":{"domain":["C1","C3","C4","RefA"],"range":[7,313],"paddingInner":0.03,"paddingOuter":0}},"y":{"field":"row","type":"nominal","scale":{"domain":["h","r1","r2"],"range":[3,37],"paddingInner":0,"paddingOuter":0}},"text":{"value":"/"}}},
{"data":{"name":"b2"},"transform":[{"filter":"datum.g==='B'"}],"mark":{"type":"rect"},"encoding":{"x":{"field":"box","type":"nominal","scale":{"domain":["RefB"],"range":[315,366],"paddingInner":0,"paddingOuter":0}},"y":{"field":"row","type":"nominal","scale":{"domain":["h","r1","r2"],"range":[3,37],"paddingInner":0,"paddingOuter":0}},"color":{"field":"row","type":"nominal","scale":{"domain":["h","r1","r2"],"range":["#e2e2e2","#c8c8c8","#c8c8c8"]}}}},
{"data":{"name":"b2"},"transform":[{"filter":"datum.g==='B' && datum.row==='h'"}],"mark":{"type":"rect","width":26,"color":"#a2358b","xOffset":-11.5},"encoding":{"x":{"field":"box","type":"nominal","scale":{"domain":["RefB"],"range":[315,366],"paddingInner":0,"paddingOuter":0}},"y":{"field":"row","type":"nominal","scale":{"domain":["h","r1","r2"],"range":[3,37],"paddingInner":0,"paddingOuter":0}}}},
{"data":{"name":"b2"},"transform":[{"filter":"datum.g==='B' && datum.row==='h'"}],"mark":{"type":"text","font":"Liberation Sans","fontSize":9,"color":"#f2f2f2","align":"center","baseline":"middle","dx":-11.5},"encoding":{"x":{"field":"box","type":"nominal","scale":{"domain":["RefB"],"range":[315,366],"paddingInner":0,"paddingOuter":0}},"y":{"field":"row","type":"nominal","scale":{"domain":["h","r1","r2"],"range":[3,37],"paddingInner":0,"paddingOuter":0}},"text":{"field":"left"}}},
{"data":{"name":"b2"},"transform":[{"filter":"datum.g==='B' && datum.row!=='h'"}],"mark":{"type":"text","font":"Liberation Sans","fontSize":9,"color":"#1a1a1a","align":"right","baseline":"middle","dx":24.5},"encoding":{"x":{"field":"box","type":"nominal","scale":{"domain":["RefB"],"range":[315,366],"paddingInner":0,"paddingOuter":0}},"y":{"field":"row","type":"nominal","scale":{"domain":["h","r1","r2"],"range":[3,37],"paddingInner":0,"paddingOuter":0}},"text":{"field":"right"}}},
{"data":{"name":"b2"},"transform":[{"filter":"datum.g==='N'"}],"mark":{"type":"rect","color":"#dcdcdc"},"encoding":{"x":{"field":"box","type":"nominal","scale":{"domain":["<<",">>"],"range":[368,404],"paddingInner":0.06,"paddingOuter":0}},"y":{"field":"row","type":"nominal","scale":{"domain":["h","r1","r2"],"range":[3,37],"paddingInner":0,"paddingOuter":0}}}},
{"data":{"name":"b2"},"transform":[{"filter":"datum.g==='N' && datum.row==='r1'"}],"mark":{"type":"text","font":"Liberation Sans","fontSize":9,"color":"#333333","align":"center","baseline":"middle"},"encoding":{"x":{"field":"box","type":"nominal","scale":{"domain":["<<",">>"],"range":[368,404],"paddingInner":0.06,"paddingOuter":0}},"y":{"field":"row","type":"nominal","scale":{"domain":["h","r1","r2"],"range":[3,37],"paddingInner":0,"paddingOuter":0}},"text":{"field":"left"}}},
{"data":{"name":"b2"},"transform":[{"filter":"datum.g==='R'"}],"mark":{"type":"rect"},"encoding":{"x":{"field":"box","type":"nominal","scale":{"domain":["Timebase","Trigger"],"range":[406,568],"paddingInner":0.03,"paddingOuter":0}},"y":{"field":"row","type":"nominal","scale":{"domain":["h","r1","r2"],"range":[3,37],"paddingInner":0,"paddingOuter":0}},"color":{"field":"row","type":"nominal","scale":{"domain":["h","r1","r2"],"range":["#dedede","#c8c8c8","#c8c8c8"]}}}},
{"data":{"name":"b2"},"transform":[{"filter":"datum.g==='R' && datum.row==='h'"}],"mark":{"type":"text","font":"Liberation Sans","fontSize":9,"align":"left","baseline":"middle","dx":-37.4},"encoding":{"x":{"field":"box","type":"nominal","scale":{"domain":["Timebase","Trigger"],"range":[406,568],"paddingInner":0.03,"paddingOuter":0}},"y":{"field":"row","type":"nominal","scale":{"domain":["h","r1","r2"],"range":[3,37],"paddingInner":0,"paddingOuter":0}},"text":{"field":"left"},"color":{"field":"box","type":"nominal","scale":{"domain":["Timebase","Trigger"],"range":["#303030","#2a7f7f"]}}}},
{"data":{"name":"b2"},"transform":[{"filter":"datum.g==='R' && datum.row==='h'"}],"mark":{"type":"text","font":"Liberation Sans","fontSize":9,"align":"right","baseline":"middle","dx":37.9},"encoding":{"x":{"field":"box","type":"nominal","scale":{"domain":["Timebase","Trigger"],"range":[406,568],"paddingInner":0.03,"paddingOuter":0}},"y":{"field":"row","type":"nominal","scale":{"domain":["h","r1","r2"],"range":[3,37],"paddingInner":0,"paddingOuter":0}},"text":{"field":"right"},"color":{"field":"box","type":"nominal","scale":{"domain":["Timebase","Trigger"],"range":["#303030","#2a7f7f"]}}}},
{"data":{"name":"b2"},"transform":[{"filter":"datum.g==='R' && datum.row!=='h'"}],"mark":{"type":"text","font":"Liberation Sans","fontSize":9,"color":"#1a1a1a","align":"left","baseline":"middle","dx":-37.9},"encoding":{"x":{"field":"box","type":"nominal","scale":{"domain":["Timebase","Trigger"],"range":[406,568],"paddingInner":0.03,"paddingOuter":0}},"y":{"field":"row","type":"nominal","scale":{"domain":["h","r1","r2"],"range":[3,37],"paddingInner":0,"paddingOuter":0}},"text":{"field":"left"}}},
{"data":{"name":"b2"},"transform":[{"filter":"datum.g==='R' && datum.row!=='h'"}],"mark":{"type":"text","font":"Liberation Sans","fontSize":9,"color":"#1a1a1a","align":"right","baseline":"middle","dx":37.9},"encoding":{"x":{"field":"box","type":"nominal","scale":{"domain":["Timebase","Trigger"],"range":[406,568],"paddingInner":0.03,"paddingOuter":0}},"y":{"field":"row","type":"nominal","scale":{"domain":["h","r1","r2"],"range":[3,37],"paddingInner":0,"paddingOuter":0}},"text":{"field":"right"}}}
]
}
]
}
